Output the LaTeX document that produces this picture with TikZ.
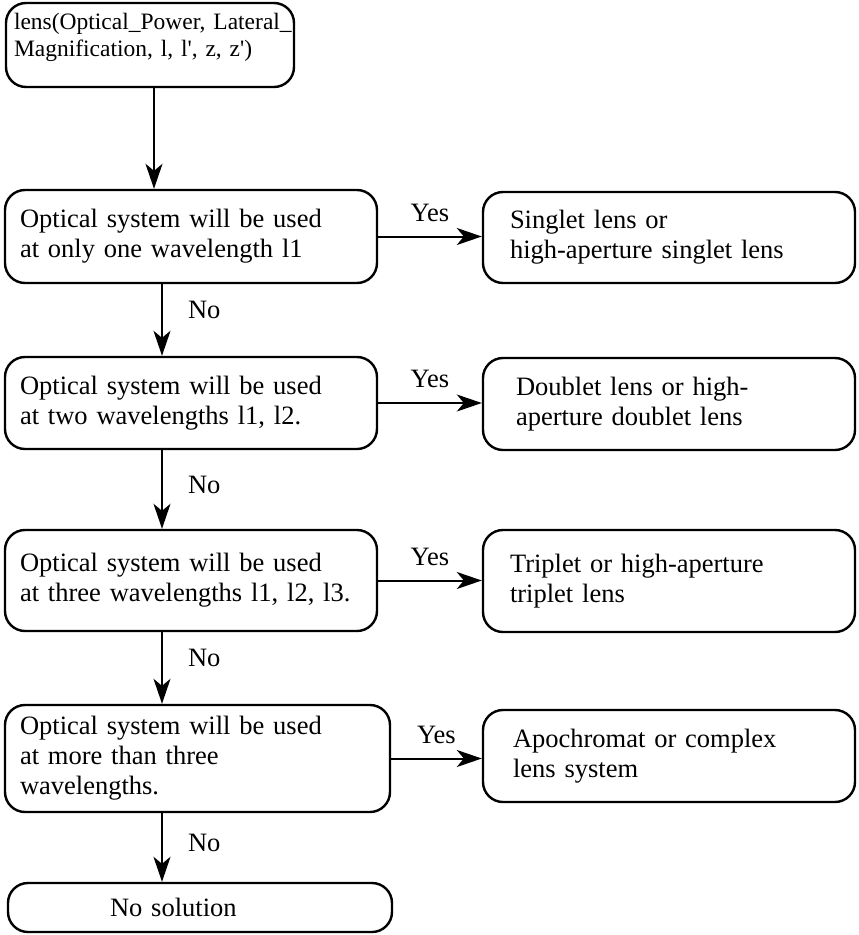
\documentclass[tikz,border=0pt]{standalone}
\usepackage{fontspec}
\setmainfont{Liberation Serif}[WordSpace=0.82]
\usetikzlibrary{arrows.meta}
\begin{document}
\begin{tikzpicture}[x=1pt,y=-1pt,
  txt/.style={font=\fontsize{26.5}{30}\selectfont},
  box/.style={txt, draw, line width=2.4pt, rounded corners=20pt,
    align=left, inner ysep=0pt},
  flow/.style={line width=2pt, -{Stealth[length=25pt,width=17pt,inset=7pt]}},
  lbl/.style={txt, inner sep=0pt}]
\useasboundingbox (0,0) rectangle (859,935);

% start box
\node[box, font=\fontsize{23.5}{27}\selectfont,
  minimum width=288pt, minimum height=84pt, inner xsep=8pt, text width=272pt]
  (start) at (150,45)
  {\mbox{lens(Optical\_Power, Lateral\_}\\\mbox{Magnification, l, l\textquotesingle, z, z\textquotesingle)}\rule[-20pt]{0pt}{20pt}};

% decision boxes (left column)
\node[box, minimum width=372pt, minimum height=93pt, inner xsep=15pt, text width=342pt]
  (q1) at (191,236.5)
  {Optical system will be used\\at only one wavelength l1};
\node[box, minimum width=372pt, minimum height=92pt, inner xsep=15pt, text width=342pt]
  (q2) at (191,403)
  {Optical system will be used\\at two wavelengths l1, l2.};
\node[box, minimum width=372pt, minimum height=101pt, inner xsep=15pt, text width=342pt]
  (q3) at (191,580.5)
  {Optical system will be used\\at three wavelengths l1, l2, l3.};
\node[box, minimum width=385pt, minimum height=107pt, inner xsep=15pt, text width=355pt]
  (q4) at (197.5,758.5)
  {Optical system will be used\\at more than three\\wavelengths.};

% result boxes (right column)
\node[box, minimum width=372pt, minimum height=91pt, inner xsep=27pt, text width=318pt]
  (r1) at (669,237.5)
  {Singlet lens or\\high-aperture singlet lens};
\node[box, minimum width=372pt, minimum height=92pt, inner xsep=33pt, text width=306pt]
  (r2) at (669,404)
  {Doublet lens or high-\\aperture doublet lens};
\node[box, minimum width=372pt, minimum height=102pt, inner xsep=27pt, text width=318pt]
  (r3) at (669,581)
  {Triplet or high-aperture\\triplet lens};
\node[box, minimum width=372pt, minimum height=92pt, inner xsep=30pt, text width=312pt]
  (r4) at (669,756)
  {Apochromat or complex\\lens system};

% terminal box
\node[box, minimum width=384pt, minimum height=49pt, inner xsep=102pt, text width=180pt]
  (stop) at (200,907.5)
  {No solution};

% vertical guide lines for the "No" branch
\coordinate (topx) at (154,0);
\coordinate (spine) at (162,0);

\draw[flow] (start.south -| topx) -- (q1.north -| topx);

\draw[flow] (q1.south -| spine) -- node[lbl, right=25pt, yshift=10pt]{No} (q2.north -| spine);
\draw[flow] (q2.south -| spine) -- node[lbl, right=25pt, yshift=5pt]{No} (q3.north -| spine);
\draw[flow] (q3.south -| spine) -- node[lbl, right=25pt, yshift=10pt]{No} (q4.north -| spine);
\draw[flow] (q4.south -| spine) -- node[lbl, right=25pt, yshift=5pt]{No} (stop.north -| spine);

% "Yes" branches
\draw[flow] (q1.east) -- node[lbl, above=14pt]{Yes} (q1.east -| r1.west);
\draw[flow] (q2.east) -- node[lbl, above=14pt]{Yes} (q2.east -| r2.west);
\draw[flow] (q3.east) -- node[lbl, above=14pt]{Yes} (q3.east -| r3.west);
\draw[flow] (q4.east) -- node[lbl, above=14pt]{Yes} (q4.east -| r4.west);
\end{tikzpicture}
\end{document}
